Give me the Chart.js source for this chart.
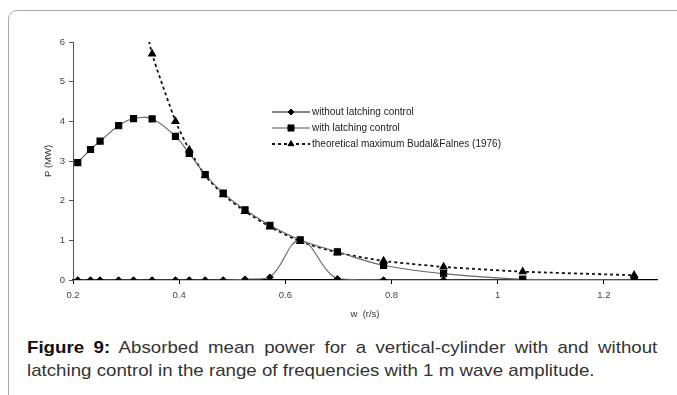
<!DOCTYPE html>
<html>
<head>
<meta charset="utf-8">
<script src="https://cdn.jsdelivr.net/npm/chart.js@4.4.1/dist/chart.umd.min.js"></script>
<style>
  html, body { margin: 0; padding: 0; background: #fff; }
  body { width: 677px; height: 395px; position: relative; overflow: hidden; font-family: "Liberation Sans", Arial, sans-serif; }
  #frame { position: absolute; left: 8px; top: 10px; width: 720px; height: 420px; border: 1px solid #aaa; border-radius: 9px; }
  #chart { position: absolute; left: 0; top: 0; }
  #caption { position: absolute; left: 27px; top: 336px; width: 573px; font-size: 17px; line-height: 23px; color: #333;
             transform: scaleX(1.1); transform-origin: 0 0; }
  #caption .l1 { text-align: justify; text-align-last: justify; }
  #caption b { color: #111; }
</style>
</head>
<body>
<div id="frame"></div>
<canvas id="chart" width="677" height="330"></canvas>
<div id="caption">
  <div class="l1"><b>Figure 9:</b> Absorbed mean power for a vertical-cylinder with and without</div>
  <div>latching control in the range of frequencies with 1 m wave amplitude.</div>
</div>
<script>
// frequencies w (r/s)
const freqs = [0.209, 0.233, 0.251, 0.286, 0.314, 0.349, 0.393, 0.419, 0.449, 0.483, 0.524, 0.571, 0.628, 0.698, 0.785, 0.898, 1.047, 1.257];
// P (MW)
const withoutLatching = [0, 0, 0, 0, 0, 0, 0, 0, 0, 0, 0.02, 0.07, 1.0, 0.03, 0, 0, 0, 0];
const withLatching = [2.96, 3.29, 3.5, 3.89, 4.07, 4.06, 3.62, 3.19, 2.66, 2.19, 1.77, 1.38, 1.01, 0.71, 0.37, 0.16, 0.02, 0.0];
// theoretical maximum starts at w = 0.314 (off the top of the axis there)
const theoFreqs = [0.314, 0.349, 0.393, 0.419, 0.449, 0.483, 0.524, 0.571, 0.628, 0.698, 0.785, 0.898, 1.047, 1.257];
const theoMax = [7.8, 5.7, 4.0, 3.28, 2.63, 2.15, 1.73, 1.34, 0.97, 0.69, 0.48, 0.33, 0.21, 0.12];

const labels = ['without latching control', 'with latching control', 'theoretical maximum Budal&Falnes (1976)'];
const yTicks = [0, 1, 2, 3, 4, 5, 6];

const toPoints = (xs, ys) => xs.map((x, i) => ({ x: x, y: ys[i] }));

const FONT = '"Liberation Sans", Arial, sans-serif';

// legend drawn by hand, to sit inside the plot like the original
const innerLegend = {
  id: 'innerLegend',
  afterDraw(chart) {
    const ctx = chart.ctx;
    const x0 = 272, x1 = 310, rows = [112, 128, 144];
    chart.data.datasets.forEach((ds, i) => {
      const y = rows[i];
      ctx.save();
      ctx.strokeStyle = ds.legendColor || ds.borderColor;
      ctx.lineWidth = ds.borderWidth;
      ctx.setLineDash(ds.borderDash || []);
      ctx.beginPath();
      ctx.moveTo(x0, y);
      ctx.lineTo(x1, y);
      ctx.stroke();
      ctx.setLineDash([]);
      ctx.fillStyle = '#000';
      ctx.strokeStyle = '#000';
      ctx.lineWidth = 1;
      Chart.helpers.drawPoint(ctx, { pointStyle: ds.pointStyle, radius: ds.pointRadius, rotation: 0, borderWidth: 1 }, (x0 + x1) / 2, y);
      ctx.fillStyle = '#222';
      ctx.font = '10px ' + FONT;
      ctx.textBaseline = 'middle';
      ctx.textAlign = 'left';
      ctx.fillText(ds.label, x1 + 2, y);
      ctx.restore();
    });
  }
};

new Chart(document.getElementById('chart'), {
  type: 'line',
  data: {
    datasets: [
      {
        label: labels[0],
        data: toPoints(freqs, withoutLatching),
        borderColor: '#666',
        legendColor: '#111',
        borderWidth: 1.1,
        pointStyle: 'rectRot',
        pointRadius: 3,
        pointBackgroundColor: '#000',
        pointBorderColor: '#000',
        tension: 0.4
      },
      {
        label: labels[1],
        data: toPoints(freqs, withLatching),
        borderColor: '#666',
        legendColor: '#555',
        borderWidth: 1.1,
        pointStyle: 'rect',
        pointRadius: 4.3,
        pointBackgroundColor: '#000',
        pointBorderColor: '#000',
        tension: 0.4
      },
      {
        label: labels[2],
        data: toPoints(theoFreqs, theoMax),
        borderColor: '#111',
        borderWidth: 1.8,
        borderDash: [3, 3],
        pointStyle: 'triangle',
        pointRadius: 3.4,
        pointBackgroundColor: '#000',
        pointBorderColor: '#000',
        tension: 0.15
      }
    ]
  },
  options: {
    responsive: false,
    animation: false,
    devicePixelRatio: 1,
    layout: { padding: { top: 42, right: 20, left: 0, bottom: 0 } },
    plugins: {
      legend: { display: false },
      tooltip: { enabled: false }
    },
    scales: {
      x: {
        type: 'linear',
        min: 0.2,
        max: 1.3,
        afterFit: (scale) => { scale.height = 50; },
        border: { color: '#000', width: 1.2 },
        grid: { drawOnChartArea: false, tickLength: 4, color: '#000' },
        ticks: {
          stepSize: 0.2,
          includeBounds: false,
          padding: 6,
          color: '#444',
          font: { family: FONT, size: 9.5 },
          maxRotation: 0,
          callback: (v) => String(Number(v.toFixed(1)))
        },
        title: {
          display: true,
          text: 'w  (r/s)',
          color: '#333',
          font: { family: FONT, size: 9.5 },
          padding: { top: 0, bottom: 10 }
        }
      },
      y: {
        min: 0,
        max: 6,
        afterFit: (scale) => { scale.width = 73; },
        afterBuildTicks: (scale) => { scale.ticks = yTicks.map(v => ({ value: v })); },
        border: { color: '#555', width: 1 },
        grid: { drawOnChartArea: false, tickLength: 4, color: '#555' },
        ticks: {
          padding: 4,
          color: '#444',
          font: { family: FONT, size: 9.5 }
        },
        title: {
          display: true,
          text: 'P (MW)',
          color: '#333',
          font: { family: FONT, size: 9.5 },
          padding: { top: 43, bottom: 0 }
        }
      }
    }
  },
  plugins: [innerLegend]
});
</script>
</body>
</html>
